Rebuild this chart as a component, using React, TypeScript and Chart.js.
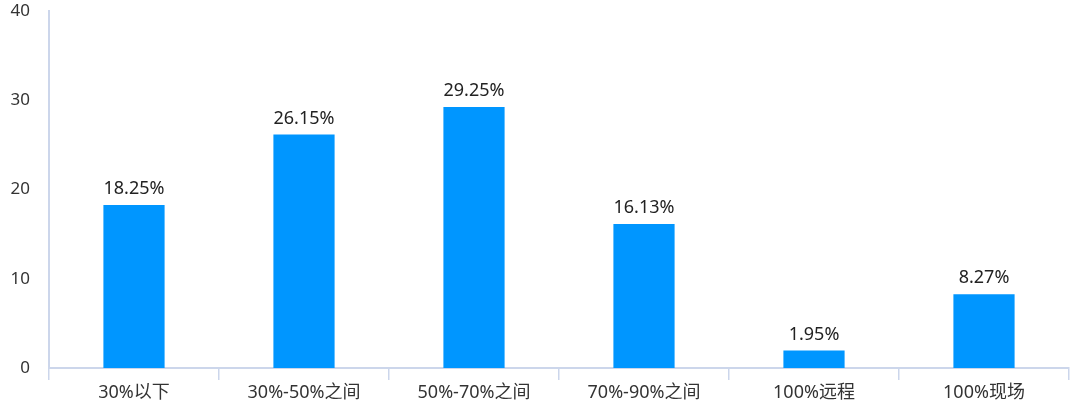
import React, { useEffect, useRef } from "react";
import { Chart, registerables } from "chart.js";

Chart.register(...registerables);

const categories = ["30%以下", "30%-50%之间", "50%-70%之间", "70%-90%之间", "100%远程", "100%现场"];
const values = [18.25, 26.15, 29.25, 16.13, 1.95, 8.27];
const yTicks = [0, 10, 20, 30, 40];

const FONT = '"Noto Sans", "Noto Sans CJK SC", sans-serif';

const labelPlugin = {
  id: "barLabels",
  afterDatasetsDraw(chart: any) {
    const ctx = chart.ctx;
    const meta = chart.getDatasetMeta(0);
    ctx.save();
    ctx.font = `18px ${FONT}`;
    ctx.fillStyle = "#222";
    ctx.textAlign = "center";
    ctx.textBaseline = "bottom";
    meta.data.forEach((el: any, i: number) => {
      ctx.fillText(values[i].toFixed(2) + "%", el.x, el.y - 7);
    });
    ctx.restore();
  },
};

export default function App() {
  const ref = useRef<HTMLCanvasElement>(null);
  useEffect(() => {
    document.body.style.margin = "0";
    const chart = new Chart(ref.current!, {
      type: "bar",
      data: {
        labels: categories,
        datasets: [
          {
            data: values,
            backgroundColor: "#0096ff",
            barPercentage: 0.36,
            categoryPercentage: 1,
          },
        ],
      },
      options: {
        responsive: false,
        animation: false,
        layout: { padding: { top: 11, right: 11, left: 0, bottom: 0 } },
        plugins: { legend: { display: false }, tooltip: { enabled: false } },
        scales: {
          x: {
            grid: {
              display: true,
              drawOnChartArea: false,
              offset: true,
              drawTicks: true,
              tickLength: 12,
              color: "#ccd6eb",
              lineWidth: 1.5,
            },
            border: { display: true, color: "#ccd6eb", width: 2 },
            ticks: { font: { family: FONT, size: 18 }, color: "#333", padding: 2 },
            afterFit(scale: any) {
              scale.height = 51;
              scale.paddingLeft = 0;
              scale.paddingRight = 0;
            },
          },
          y: {
            min: 0,
            max: 40,
            afterBuildTicks(scale: any) {
              scale.ticks = yTicks.map((v) => ({ value: v }));
            },
            grid: { display: false },
            border: { display: true, color: "#ccd6eb", width: 2 },
            ticks: { font: { family: FONT, size: 17 }, color: "#333", padding: 11 },
            afterFit(scale: any) {
              scale.width = 49;
              scale.paddingTop = 0;
              scale.paddingBottom = 0;
            },
          },
        },
      },
      plugins: [labelPlugin],
    });
    return () => chart.destroy();
  }, []);
  return <canvas ref={ref} width={1080} height={419} style={{ display: "block" }} />;
}
